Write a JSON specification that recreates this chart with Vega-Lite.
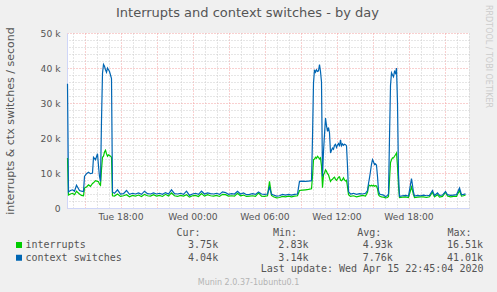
{
  "$schema": "https://vega.github.io/schema/vega-lite/v6.json",
  "width": 402,
  "height": 175,
  "autosize": {"type": "none"},
  "padding": {"left": 67, "top": 33, "right": 28, "bottom": 84},
  "background": "#f0f0f0",
  "view": {"fill": "#ffffff", "stroke": null},
  "config": {
    "font": "DejaVu Sans",
    "axis": {"labelFont": "DejaVu Sans", "titleFont": "DejaVu Sans", "titleFontWeight": "normal", "labelColor": "#555555", "titleColor": "#555555"}
  },
  "title": {"text": "Interrupts and context switches - by day", "font": "DejaVu Sans", "fontSize": 13, "fontWeight": "normal", "color": "#555555", "anchor": "middle", "frame": "group", "dx": -20.5, "offset": 0, "dy": 16},
  "data": {"values": [
    {"time": "2020-04-14T13:35", "interrupts": 14300, "context switches": 35500},
    {"time": "2020-04-14T13:40", "interrupts": 3700, "context switches": 4600},
    {"time": "2020-04-14T13:50", "interrupts": 4000, "context switches": 5000},
    {"time": "2020-04-14T14:00", "interrupts": 4200, "context switches": 5200},
    {"time": "2020-04-14T14:10", "interrupts": 3800, "context switches": 4800},
    {"time": "2020-04-14T14:20", "interrupts": 4800, "context switches": 6500},
    {"time": "2020-04-14T14:25", "interrupts": 4500, "context switches": 6000},
    {"time": "2020-04-14T14:35", "interrupts": 4000, "context switches": 5000},
    {"time": "2020-04-14T14:45", "interrupts": 3600, "context switches": 4800},
    {"time": "2020-04-14T14:55", "interrupts": 3500, "context switches": 4700},
    {"time": "2020-04-14T15:00", "interrupts": 5700, "context switches": 9000},
    {"time": "2020-04-14T15:10", "interrupts": 6000, "context switches": 9800},
    {"time": "2020-04-14T15:20", "interrupts": 6600, "context switches": 10200},
    {"time": "2020-04-14T15:30", "interrupts": 6200, "context switches": 9800},
    {"time": "2020-04-14T15:40", "interrupts": 7000, "context switches": 10000},
    {"time": "2020-04-14T15:45", "interrupts": 7200, "context switches": 14500},
    {"time": "2020-04-14T15:55", "interrupts": 7800, "context switches": 13800},
    {"time": "2020-04-14T16:05", "interrupts": 7600, "context switches": 15500},
    {"time": "2020-04-14T16:10", "interrupts": 7500, "context switches": 12000},
    {"time": "2020-04-14T16:15", "interrupts": 6800, "context switches": 9000},
    {"time": "2020-04-14T16:20", "interrupts": 6500, "context switches": 7600},
    {"time": "2020-04-14T16:25", "interrupts": 11000, "context switches": 25000},
    {"time": "2020-04-14T16:30", "interrupts": 14500, "context switches": 38500},
    {"time": "2020-04-14T16:35", "interrupts": 14800, "context switches": 41000},
    {"time": "2020-04-14T16:40", "interrupts": 16000, "context switches": 40500},
    {"time": "2020-04-14T16:45", "interrupts": 16500, "context switches": 39500},
    {"time": "2020-04-14T16:50", "interrupts": 15500, "context switches": 38800},
    {"time": "2020-04-14T16:55", "interrupts": 14800, "context switches": 40000},
    {"time": "2020-04-14T17:00", "interrupts": 15200, "context switches": 39500},
    {"time": "2020-04-14T17:05", "interrupts": 15000, "context switches": 39000},
    {"time": "2020-04-14T17:10", "interrupts": 14800, "context switches": 38000},
    {"time": "2020-04-14T17:15", "interrupts": 14500, "context switches": 37000},
    {"time": "2020-04-14T17:20", "interrupts": 3500, "context switches": 4500},
    {"time": "2020-04-14T17:30", "interrupts": 3400, "context switches": 4200},
    {"time": "2020-04-14T17:45", "interrupts": 4000, "context switches": 5200},
    {"time": "2020-04-14T18:00", "interrupts": 3300, "context switches": 4000},
    {"time": "2020-04-14T18:15", "interrupts": 3500, "context switches": 4100},
    {"time": "2020-04-14T18:30", "interrupts": 3800, "context switches": 5000},
    {"time": "2020-04-14T18:45", "interrupts": 3200, "context switches": 3900},
    {"time": "2020-04-14T19:00", "interrupts": 3600, "context switches": 4200},
    {"time": "2020-04-14T19:15", "interrupts": 3400, "context switches": 4000},
    {"time": "2020-04-14T19:30", "interrupts": 3700, "context switches": 4300},
    {"time": "2020-04-14T19:45", "interrupts": 3300, "context switches": 3900},
    {"time": "2020-04-14T20:00", "interrupts": 3900, "context switches": 4800},
    {"time": "2020-04-14T20:15", "interrupts": 3500, "context switches": 4100},
    {"time": "2020-04-14T20:30", "interrupts": 3400, "context switches": 4000},
    {"time": "2020-04-14T20:45", "interrupts": 3800, "context switches": 4300},
    {"time": "2020-04-14T21:00", "interrupts": 3400, "context switches": 4000},
    {"time": "2020-04-14T21:15", "interrupts": 3600, "context switches": 4200},
    {"time": "2020-04-14T21:30", "interrupts": 3300, "context switches": 3900},
    {"time": "2020-04-14T21:45", "interrupts": 3900, "context switches": 4400},
    {"time": "2020-04-14T22:00", "interrupts": 3400, "context switches": 4000},
    {"time": "2020-04-14T22:15", "interrupts": 4300, "context switches": 5200},
    {"time": "2020-04-14T22:30", "interrupts": 3500, "context switches": 4100},
    {"time": "2020-04-14T22:45", "interrupts": 3300, "context switches": 4000},
    {"time": "2020-04-14T23:00", "interrupts": 3600, "context switches": 4200},
    {"time": "2020-04-14T23:15", "interrupts": 3400, "context switches": 3900},
    {"time": "2020-04-14T23:30", "interrupts": 3800, "context switches": 4800},
    {"time": "2020-04-14T23:45", "interrupts": 3100, "context switches": 3600},
    {"time": "2020-04-15T00:00", "interrupts": 3500, "context switches": 4000},
    {"time": "2020-04-15T00:15", "interrupts": 3600, "context switches": 4200},
    {"time": "2020-04-15T00:30", "interrupts": 3300, "context switches": 3900},
    {"time": "2020-04-15T00:45", "interrupts": 4100, "context switches": 4800},
    {"time": "2020-04-15T01:00", "interrupts": 3400, "context switches": 4000},
    {"time": "2020-04-15T01:15", "interrupts": 3800, "context switches": 4300},
    {"time": "2020-04-15T01:30", "interrupts": 3500, "context switches": 4100},
    {"time": "2020-04-15T01:45", "interrupts": 3400, "context switches": 4000},
    {"time": "2020-04-15T02:00", "interrupts": 3600, "context switches": 4200},
    {"time": "2020-04-15T02:15", "interrupts": 3300, "context switches": 3900},
    {"time": "2020-04-15T02:30", "interrupts": 3900, "context switches": 4600},
    {"time": "2020-04-15T02:45", "interrupts": 3800, "context switches": 4400},
    {"time": "2020-04-15T03:00", "interrupts": 3400, "context switches": 3900},
    {"time": "2020-04-15T03:15", "interrupts": 3500, "context switches": 4100},
    {"time": "2020-04-15T03:30", "interrupts": 3400, "context switches": 4000},
    {"time": "2020-04-15T03:45", "interrupts": 4200, "context switches": 4800},
    {"time": "2020-04-15T04:00", "interrupts": 3500, "context switches": 4000},
    {"time": "2020-04-15T04:15", "interrupts": 3700, "context switches": 4300},
    {"time": "2020-04-15T04:30", "interrupts": 3300, "context switches": 3800},
    {"time": "2020-04-15T04:45", "interrupts": 3400, "context switches": 3900},
    {"time": "2020-04-15T05:00", "interrupts": 3500, "context switches": 4100},
    {"time": "2020-04-15T05:15", "interrupts": 3300, "context switches": 3900},
    {"time": "2020-04-15T05:30", "interrupts": 4300, "context switches": 4600},
    {"time": "2020-04-15T05:45", "interrupts": 3400, "context switches": 4000},
    {"time": "2020-04-15T06:00", "interrupts": 3300, "context switches": 3900},
    {"time": "2020-04-15T06:15", "interrupts": 3500, "context switches": 4000},
    {"time": "2020-04-15T06:25", "interrupts": 7600, "context switches": 5900},
    {"time": "2020-04-15T06:35", "interrupts": 3600, "context switches": 4000},
    {"time": "2020-04-15T06:45", "interrupts": 3200, "context switches": 3700},
    {"time": "2020-04-15T07:00", "interrupts": 2900, "context switches": 3400},
    {"time": "2020-04-15T07:15", "interrupts": 3000, "context switches": 3500},
    {"time": "2020-04-15T07:30", "interrupts": 3300, "context switches": 3900},
    {"time": "2020-04-15T07:45", "interrupts": 3200, "context switches": 3700},
    {"time": "2020-04-15T08:00", "interrupts": 3400, "context switches": 3900},
    {"time": "2020-04-15T08:15", "interrupts": 3200, "context switches": 3700},
    {"time": "2020-04-15T08:30", "interrupts": 3400, "context switches": 3900},
    {"time": "2020-04-15T08:45", "interrupts": 3500, "context switches": 4000},
    {"time": "2020-04-15T08:55", "interrupts": 5000, "context switches": 7600},
    {"time": "2020-04-15T09:10", "interrupts": 5100, "context switches": 7700},
    {"time": "2020-04-15T09:25", "interrupts": 5200, "context switches": 7600},
    {"time": "2020-04-15T09:40", "interrupts": 5300, "context switches": 7700},
    {"time": "2020-04-15T09:55", "interrupts": 5500, "context switches": 7800},
    {"time": "2020-04-15T10:00", "interrupts": 9000, "context switches": 20000},
    {"time": "2020-04-15T10:05", "interrupts": 13800, "context switches": 35700},
    {"time": "2020-04-15T10:10", "interrupts": 14000, "context switches": 39500},
    {"time": "2020-04-15T10:15", "interrupts": 14500, "context switches": 38800},
    {"time": "2020-04-15T10:20", "interrupts": 14200, "context switches": 39500},
    {"time": "2020-04-15T10:25", "interrupts": 14800, "context switches": 39000},
    {"time": "2020-04-15T10:30", "interrupts": 14500, "context switches": 39200},
    {"time": "2020-04-15T10:35", "interrupts": 14000, "context switches": 41000},
    {"time": "2020-04-15T10:40", "interrupts": 14300, "context switches": 39000},
    {"time": "2020-04-15T10:45", "interrupts": 12000, "context switches": 36000},
    {"time": "2020-04-15T10:50", "interrupts": 5800, "context switches": 9000},
    {"time": "2020-04-15T10:55", "interrupts": 9500, "context switches": 16200},
    {"time": "2020-04-15T11:00", "interrupts": 10000, "context switches": 21000},
    {"time": "2020-04-15T11:05", "interrupts": 10900, "context switches": 25700},
    {"time": "2020-04-15T11:10", "interrupts": 10500, "context switches": 23500},
    {"time": "2020-04-15T11:15", "interrupts": 9800, "context switches": 21900},
    {"time": "2020-04-15T11:20", "interrupts": 9500, "context switches": 23000},
    {"time": "2020-04-15T11:25", "interrupts": 8500, "context switches": 21500},
    {"time": "2020-04-15T11:30", "interrupts": 7600, "context switches": 15700},
    {"time": "2020-04-15T11:35", "interrupts": 8000, "context switches": 16500},
    {"time": "2020-04-15T11:40", "interrupts": 8200, "context switches": 17100},
    {"time": "2020-04-15T11:45", "interrupts": 8600, "context switches": 16800},
    {"time": "2020-04-15T11:50", "interrupts": 8800, "context switches": 17900},
    {"time": "2020-04-15T11:55", "interrupts": 8200, "context switches": 18200},
    {"time": "2020-04-15T12:00", "interrupts": 7900, "context switches": 17300},
    {"time": "2020-04-15T12:05", "interrupts": 8300, "context switches": 18000},
    {"time": "2020-04-15T12:10", "interrupts": 8800, "context switches": 18400},
    {"time": "2020-04-15T12:15", "interrupts": 8900, "context switches": 17600},
    {"time": "2020-04-15T12:20", "interrupts": 8000, "context switches": 19500},
    {"time": "2020-04-15T12:25", "interrupts": 7800, "context switches": 17800},
    {"time": "2020-04-15T12:30", "interrupts": 8100, "context switches": 18300},
    {"time": "2020-04-15T12:35", "interrupts": 8600, "context switches": 17900},
    {"time": "2020-04-15T12:40", "interrupts": 8000, "context switches": 18200},
    {"time": "2020-04-15T12:45", "interrupts": 7700, "context switches": 18100},
    {"time": "2020-04-15T12:50", "interrupts": 7900, "context switches": 17800},
    {"time": "2020-04-15T12:55", "interrupts": 6000, "context switches": 12000},
    {"time": "2020-04-15T13:00", "interrupts": 3800, "context switches": 4700},
    {"time": "2020-04-15T13:10", "interrupts": 3300, "context switches": 4000},
    {"time": "2020-04-15T13:25", "interrupts": 3500, "context switches": 4200},
    {"time": "2020-04-15T13:40", "interrupts": 3200, "context switches": 3900},
    {"time": "2020-04-15T13:55", "interrupts": 3400, "context switches": 4100},
    {"time": "2020-04-15T14:10", "interrupts": 3600, "context switches": 4000},
    {"time": "2020-04-15T14:25", "interrupts": 3400, "context switches": 4200},
    {"time": "2020-04-15T14:35", "interrupts": 4500, "context switches": 5000},
    {"time": "2020-04-15T14:40", "interrupts": 6200, "context switches": 7000},
    {"time": "2020-04-15T14:45", "interrupts": 6500, "context switches": 8600},
    {"time": "2020-04-15T14:50", "interrupts": 6300, "context switches": 10500},
    {"time": "2020-04-15T14:55", "interrupts": 6500, "context switches": 12500},
    {"time": "2020-04-15T15:00", "interrupts": 6300, "context switches": 13800},
    {"time": "2020-04-15T15:05", "interrupts": 6500, "context switches": 13200},
    {"time": "2020-04-15T15:10", "interrupts": 6200, "context switches": 12400},
    {"time": "2020-04-15T15:15", "interrupts": 6400, "context switches": 12600},
    {"time": "2020-04-15T15:20", "interrupts": 6300, "context switches": 12200},
    {"time": "2020-04-15T15:25", "interrupts": 5500, "context switches": 9000},
    {"time": "2020-04-15T15:30", "interrupts": 3800, "context switches": 5000},
    {"time": "2020-04-15T15:35", "interrupts": 3400, "context switches": 4000},
    {"time": "2020-04-15T15:45", "interrupts": 3200, "context switches": 3800},
    {"time": "2020-04-15T15:55", "interrupts": 3100, "context switches": 3700},
    {"time": "2020-04-15T16:05", "interrupts": 2900, "context switches": 3200},
    {"time": "2020-04-15T16:15", "interrupts": 3000, "context switches": 3600},
    {"time": "2020-04-15T16:20", "interrupts": 3300, "context switches": 4000},
    {"time": "2020-04-15T16:25", "interrupts": 8000, "context switches": 20000},
    {"time": "2020-04-15T16:30", "interrupts": 13000, "context switches": 35000},
    {"time": "2020-04-15T16:35", "interrupts": 13800, "context switches": 38600},
    {"time": "2020-04-15T16:40", "interrupts": 14300, "context switches": 38000},
    {"time": "2020-04-15T16:45", "interrupts": 14300, "context switches": 37500},
    {"time": "2020-04-15T16:50", "interrupts": 14800, "context switches": 39000},
    {"time": "2020-04-15T16:55", "interrupts": 15200, "context switches": 38500},
    {"time": "2020-04-15T17:00", "interrupts": 15700, "context switches": 40000},
    {"time": "2020-04-15T17:05", "interrupts": 12000, "context switches": 30000},
    {"time": "2020-04-15T17:10", "interrupts": 6200, "context switches": 9500},
    {"time": "2020-04-15T17:15", "interrupts": 3000, "context switches": 3300},
    {"time": "2020-04-15T17:30", "interrupts": 3100, "context switches": 3500},
    {"time": "2020-04-15T17:45", "interrupts": 3200, "context switches": 3600},
    {"time": "2020-04-15T18:00", "interrupts": 3000, "context switches": 3400},
    {"time": "2020-04-15T18:15", "interrupts": 6000, "context switches": 8400},
    {"time": "2020-04-15T18:20", "interrupts": 5000, "context switches": 6500},
    {"time": "2020-04-15T18:25", "interrupts": 3800, "context switches": 4500},
    {"time": "2020-04-15T18:30", "interrupts": 3000, "context switches": 3400},
    {"time": "2020-04-15T18:45", "interrupts": 3100, "context switches": 3600},
    {"time": "2020-04-15T19:00", "interrupts": 3200, "context switches": 3500},
    {"time": "2020-04-15T19:15", "interrupts": 3200, "context switches": 3700},
    {"time": "2020-04-15T19:30", "interrupts": 3000, "context switches": 3500},
    {"time": "2020-04-15T19:45", "interrupts": 3200, "context switches": 3600},
    {"time": "2020-04-15T20:00", "interrupts": 4500, "context switches": 5000},
    {"time": "2020-04-15T20:10", "interrupts": 3200, "context switches": 3600},
    {"time": "2020-04-15T20:25", "interrupts": 3800, "context switches": 4300},
    {"time": "2020-04-15T20:35", "interrupts": 3100, "context switches": 3600},
    {"time": "2020-04-15T20:50", "interrupts": 3300, "context switches": 3700},
    {"time": "2020-04-15T21:05", "interrupts": 4500, "context switches": 4700},
    {"time": "2020-04-15T21:15", "interrupts": 3400, "context switches": 3800},
    {"time": "2020-04-15T21:30", "interrupts": 3200, "context switches": 3600},
    {"time": "2020-04-15T21:45", "interrupts": 3300, "context switches": 3700},
    {"time": "2020-04-15T22:00", "interrupts": 3300, "context switches": 3800},
    {"time": "2020-04-15T22:15", "interrupts": 5000, "context switches": 5700},
    {"time": "2020-04-15T22:25", "interrupts": 3400, "context switches": 3800},
    {"time": "2020-04-15T22:35", "interrupts": 3500, "context switches": 3900},
    {"time": "2020-04-15T22:45", "interrupts": 3750, "context switches": 4040}
  ]},
  "transform": [{"fold": ["interrupts", "context switches"], "as": ["series", "value"]}],
  "layer": [
    {
      "mark": {"type": "line", "opacity": 0},
      "encoding": {
        "x": {"field": "time", "type": "temporal",
          "scale": {"domain": [{"year": 2020, "month": "apr", "date": 14, "hours": 13, "minutes": 32, "seconds": 30}, {"year": 2020, "month": "apr", "date": 15, "hours": 23, "minutes": 2, "seconds": 30}]},
          "axis": {"orient": "bottom",
            "values": [{"year": 2020, "month": "apr", "date": 14, "hours": 14}, {"year": 2020, "month": "apr", "date": 14, "hours": 16}, {"year": 2020, "month": "apr", "date": 14, "hours": 17}, {"year": 2020, "month": "apr", "date": 14, "hours": 19}, {"year": 2020, "month": "apr", "date": 14, "hours": 20}, {"year": 2020, "month": "apr", "date": 14, "hours": 22}, {"year": 2020, "month": "apr", "date": 14, "hours": 23}, {"year": 2020, "month": "apr", "date": 15, "hours": 1}, {"year": 2020, "month": "apr", "date": 15, "hours": 2}, {"year": 2020, "month": "apr", "date": 15, "hours": 4}, {"year": 2020, "month": "apr", "date": 15, "hours": 5}, {"year": 2020, "month": "apr", "date": 15, "hours": 7}, {"year": 2020, "month": "apr", "date": 15, "hours": 8}, {"year": 2020, "month": "apr", "date": 15, "hours": 10}, {"year": 2020, "month": "apr", "date": 15, "hours": 11}, {"year": 2020, "month": "apr", "date": 15, "hours": 13}, {"year": 2020, "month": "apr", "date": 15, "hours": 14}, {"year": 2020, "month": "apr", "date": 15, "hours": 16}, {"year": 2020, "month": "apr", "date": 15, "hours": 17}, {"year": 2020, "month": "apr", "date": 15, "hours": 19}, {"year": 2020, "month": "apr", "date": 15, "hours": 20}, {"year": 2020, "month": "apr", "date": 15, "hours": 22}, {"year": 2020, "month": "apr", "date": 15, "hours": 23}],
            "grid": true, "gridColor": "#cccccc", "gridDash": [1, 2], "labels": false, "ticks": false, "domain": false,
            "title": "Munin 2.0.37-1ubuntu0.1", "titleX": 181, "titleY": 76, "titleAlign": "center", "titleBaseline": "alphabetic", "titleFontSize": 8, "titleColor": "#b4b4b4"}},
        "y": {"field": "value", "type": "quantitative",
          "scale": {"domain": [0, 50000], "nice": false},
          "axis": {"orient": "right", "values": [2000, 4000, 6000, 8000, 12000, 14000, 16000, 18000, 22000, 24000, 26000, 28000, 32000, 34000, 36000, 38000, 42000, 44000, 46000, 48000], "grid": true, "gridColor": "#cccccc", "gridDash": [1, 2], "labels": false, "ticks": false, "domain": false,
            "title": "RRDTOOL / TOBI OETIKER", "titleAngle": 90, "titleX": 16.5, "titleY": 23, "titleAlign": "center", "titleBaseline": "alphabetic", "titleFontSize": 8, "titleColor": "#cccccc"}},
        "detail": {"field": "series", "type": "nominal"}
      }
    },
    {
      "transform": [{"filter": "datum.series == 'interrupts'"}],
      "mark": {"type": "line", "strokeWidth": 1.2},
      "encoding": {
        "x": {"field": "time", "type": "temporal",
          "axis": {"orient": "bottom",
            "values": [{"year": 2020, "month": "apr", "date": 14, "hours": 15}, {"year": 2020, "month": "apr", "date": 14, "hours": 18}, {"year": 2020, "month": "apr", "date": 14, "hours": 21}, {"year": 2020, "month": "apr", "date": 15, "hours": 0}, {"year": 2020, "month": "apr", "date": 15, "hours": 3}, {"year": 2020, "month": "apr", "date": 15, "hours": 6}, {"year": 2020, "month": "apr", "date": 15, "hours": 9}, {"year": 2020, "month": "apr", "date": 15, "hours": 12}, {"year": 2020, "month": "apr", "date": 15, "hours": 15}, {"year": 2020, "month": "apr", "date": 15, "hours": 18}, {"year": 2020, "month": "apr", "date": 15, "hours": 21}],
            "grid": true, "gridColor": "#f2a0a0", "gridDash": [1, 2], "ticks": false, "labelPadding": 4, "labelFontSize": 9.2, "labelOverlap": false, "labelFlush": false,
            "labelExpr": "hours(datum.value) % 6 == 0 ? timeFormat(datum.value, '%a %H:%M') : ''",
            "domainColor": "#cfd6f8",
            "title": "Last update: Wed Apr 15 22:45:04 2020", "titleFont": "DejaVu Sans Mono", "titleFontSize": 10, "titleX": 416, "titleY": 63.5, "titleAlign": "right", "titleBaseline": "alphabetic"}},
        "y": {"field": "value", "type": "quantitative",
          "axis": {"orient": "left", "values": [0, 10000, 20000, 30000, 40000, 50000], "grid": true, "gridColor": "#f2a0a0", "gridDash": [1, 2], "ticks": false, "labelPadding": 7, "labelFontSize": 9.2,
            "labelExpr": "datum.value == 0 ? '0' : (datum.value / 1000) + ' k'",
            "domainColor": "#cfd6f8",
            "title": "interrupts & ctx switches / second", "titleFontSize": 11, "titleX": -53.5, "titleY": 87.5, "titleAlign": "center", "titleBaseline": "alphabetic", "titleAngle": -90}},
        "color": {"field": "series", "type": "nominal",
          "scale": {"domain": ["interrupts", "context switches"], "range": ["#00cc00", "#0066b3"]},
          "legend": {"orient": "none", "legendX": -53, "legendY": 195, "padding": 0,
            "title": "\u200b\u00a0\u00a0\u00a0\u00a0\u00a0\u00a0\u00a0\u00a0\u00a0\u00a0\u00a0\u00a0\u00a0\u00a0\u00a0\u00a0\u00a0\u00a0\u00a0\u00a0\u00a0\u00a0\u00a0\u00a0\u00a0\u00a0\u00a0Cur:\u00a0\u00a0\u00a0\u00a0\u00a0\u00a0\u00a0\u00a0\u00a0\u00a0\u00a0\u00a0Min:\u00a0\u00a0\u00a0\u00a0\u00a0\u00a0\u00a0\u00a0\u00a0\u00a0Avg:\u00a0\u00a0\u00a0\u00a0\u00a0\u00a0\u00a0\u00a0\u00a0\u00a0\u00a0Max:",
            "titleFont": "DejaVu Sans Mono", "titleFontSize": 10, "titleFontWeight": "normal", "titleColor": "#555555", "titleLimit": 1000, "titlePadding": 2,
            "labelFont": "DejaVu Sans Mono", "labelFontSize": 10, "labelColor": "#555555", "labelLimit": 1000, "labelOffset": 1.5,
            "labelExpr": "datum.label == 'interrupts' ? 'interrupts\u00a0\u00a0\u00a0\u00a0\u00a0\u00a0\u00a0\u00a0\u00a0\u00a0\u00a0\u00a0\u00a0\u00a0\u00a0\u00a0\u00a03.75k\u00a0\u00a0\u00a0\u00a0\u00a0\u00a0\u00a0\u00a0\u00a0\u00a02.83k\u00a0\u00a0\u00a0\u00a0\u00a0\u00a0\u00a0\u00a0\u00a04.93k\u00a0\u00a0\u00a0\u00a0\u00a0\u00a0\u00a0\u00a0\u00a016.51k' : 'context switches\u00a0\u00a0\u00a0\u00a0\u00a0\u00a0\u00a0\u00a0\u00a0\u00a0\u00a04.04k\u00a0\u00a0\u00a0\u00a0\u00a0\u00a0\u00a0\u00a0\u00a0\u00a03.14k\u00a0\u00a0\u00a0\u00a0\u00a0\u00a0\u00a0\u00a0\u00a07.76k\u00a0\u00a0\u00a0\u00a0\u00a0\u00a0\u00a0\u00a0\u00a041.01k'",
            "symbolType": "square", "symbolSize": 1, "symbolStrokeWidth": 5, "clipHeight": 10, "rowPadding": 2.7}}
      }
    },
    {
      "transform": [{"filter": "datum.series == 'context switches'"}],
      "mark": {"type": "line", "strokeWidth": 1.2},
      "encoding": {
        "x": {"field": "time", "type": "temporal", "axis": null},
        "y": {"field": "value", "type": "quantitative", "axis": null},
        "color": {"field": "series", "type": "nominal"}
      }
    }
  ],
  "resolve": {"axis": {"x": "independent", "y": "independent"}}
}
